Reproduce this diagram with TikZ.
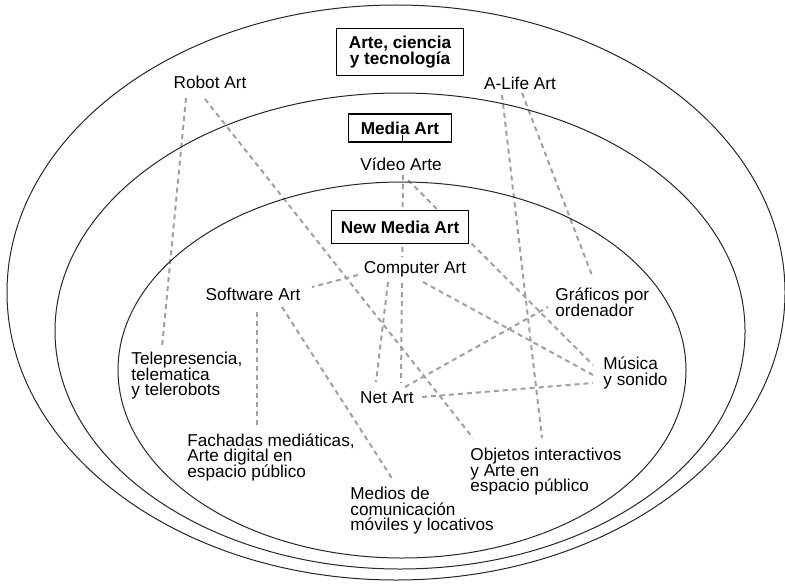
\documentclass[tikz,border=0pt]{standalone}
\usepackage{fontspec}
\setmainfont{Liberation Sans}
\usetikzlibrary{calc,backgrounds}
\definecolor{linkgray}{RGB}{160,160,160}
\newcommand\tightlines{\lineskiplimit=-5pt\relax}
\tikzset{
	lbl/.style={fill=white, inner sep=2pt, align=left, font=\fontsize{8.6}{7.75}\selectfont\tightlines},
	hdbox/.style={draw, line width=0.6pt, fill=white, align=center, inner sep=1pt, font=\bfseries\fontsize{8.6}{8.35}\selectfont\tightlines},
	link/.style={draw=linkgray, line width=1pt, dash pattern=on 2.5pt off 2pt},
	rim/.style={draw=black!85, line width=0.5pt}
}

\begin{document}
\begin{tikzpicture}[x=0.5pt, y=-0.5pt]
	\useasboundingbox (0,0) rectangle (785,583);
	% Boxes and labels:
	\node[hdbox, minimum width=63.5pt, minimum height=23.5pt] (artecyt) at (400,52) {Arte, ciencia\\y tecnología};
	\node[hdbox, minimum width=51.5pt, minimum height=14pt] (mediaart) at (400,128) {Media Art};
	\node[hdbox, minimum width=68.5pt, minimum height=16.5pt] (newmedia) at (400,227) {New Media Art};
	\node[lbl] (robot) at (210,82) {Robot Art};
	\node[lbl] (alife) at (520,83) {A-Life Art};
	\node[lbl] (video) at (401,164) {Vídeo Arte};
	\node[lbl] (comp) at (415,269) {Computer Art};
	\node[lbl] (soft) at (253,294) {Software Art};
	\node[lbl] (net) at (387,398) {Net Art};
	\node[lbl, anchor=west] (grafic) at (551,302) {Gráficos por\\ordenador};
	\node[lbl, anchor=west] (telep) at (127,376) {Telepresencia,\\telematica\\y telerobots};
	\node[lbl, anchor=west] (musica) at (599,373) {Música\\y sonido};
	\node[lbl, anchor=west] (fach) at (183,457) {Fachadas mediáticas,\\Arte digital en\\espacio público};
	\node[lbl, anchor=west] (medios) at (346,511) {Medios de\\comunicación\\móviles y locativos};
	\node[lbl, anchor=west] (objet) at (466,472) {Objetos interactivos\\y Arte en\\espacio público};
	\draw[line width=0.5pt] ([xshift=1pt]mediaart.south) -- ++(0,-8);
	% Rings:
	\draw[rim] (396,292.5) ellipse [x radius=389, y radius=287.5];
	\draw[rim] (400,331) ellipse [x radius=345, y radius=238];
	\draw[rim] (402,370) ellipse [x radius=284, y radius=188];
	% Dashed links, under the labels:
	\begin{scope}[on background layer]
		\draw[link] ($(robot)+(-24,16)$) -- ($(telep.west)+(35,-29)$);
		\draw[link] ($(robot)+(-5,17)$) -- ($(objet.west)+(7,-34)$);
		\draw[link] ($(alife)+(-18,12)$) -- ($(objet.west)+(76,-34)$);
		\draw[link] ($(alife)+(2,10)$) -- ($(grafic.west)+(42,-24)$);
		\draw[link] ($(video)+(2,11)$) -- ($(net)+(14,-15)$);
		\draw[link] ($(video)+(7,16)$) -- ($(musica.west)+(-6,-8)$);
		\draw[link] ($(comp)+(-57,6)$) -- ($(soft)+(59,-7)$);
		\draw[link] ($(comp)+(-27,13)$) -- ($(net)+(-11,-16)$);
		\draw[link] ($(comp)+(8,13)$) -- ($(musica.west)+(-6,2)$);
		\draw[link] ($(soft)+(4,18)$) -- ($(fach.west)+(74,-27)$);
		\draw[link] ($(soft)+(29,13)$) -- ($(medios.west)+(47,-31)$);
		\draw[link] ($(net)+(18,-11)$) -- ($(grafic.west)+(-3,5)$);
		\draw[link] ($(net)+(35,-1)$) -- ($(musica.west)+(-6,10)$);
	\end{scope}
\end{tikzpicture}
\end{document}
